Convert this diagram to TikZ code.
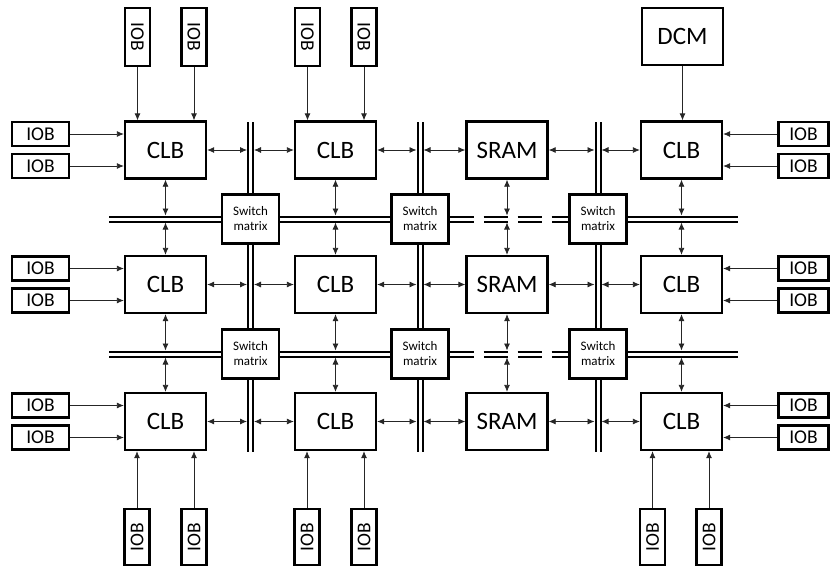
\documentclass[tikz,border=0pt]{standalone}
\usepackage{fontspec}
\setmainfont{Carlito}
\usetikzlibrary{arrows.meta,positioning,calc,backgrounds}

\begin{document}
\begin{tikzpicture}[x=1pt, y=-1pt, >={Latex[length=7pt,width=6pt]}, line width=0.8pt]
\tikzstyle{blk}=[draw, line width=2.3pt, fill=white, inner sep=0pt, minimum width=81pt, minimum height=57pt, font=\fontsize{25}{25}\selectfont]
\tikzstyle{iob}=[draw, line width=2.3pt, fill=white, inner sep=0pt, minimum width=57pt, minimum height=24pt, font=\fontsize{19.5}{19.5}\selectfont]
\tikzstyle{swm}=[draw, line width=2.3pt, fill=white, inner sep=0pt, minimum width=57pt, minimum height=49pt, align=center, font=\fontsize{13}{15}\selectfont]
\tikzstyle{bus}=[draw, line width=2pt, double, double distance=3pt]
\tikzstyle{link}=[<->, black!85]
\tikzstyle{feed}=[->, black!85]

\useasboundingbox (0,0) rectangle (830,566);

% Row 1
\node[blk] (c11) at (165.5,150) {CLB};
\node[blk] (c12) at (335.5,150) {CLB};
\node[blk] (c13) at (507,150) {SRAM};
\node[blk] (c14) at (681.5,150) {CLB};
% Row 2
\node[blk] (c21) at (165.5,284.5) {CLB};
\node[blk] (c22) at (335.5,284.5) {CLB};
\node[blk] (c23) at (507,284.5) {SRAM};
\node[blk] (c24) at (681.5,284.5) {CLB};
% Row 3
\node[blk] (c31) at (165.5,421.5) {CLB};
\node[blk] (c32) at (335.5,421.5) {CLB};
\node[blk] (c33) at (507,421.5) {SRAM};
\node[blk] (c34) at (681.5,421.5) {CLB};

\node[blk] (dcm) at (682.5,36.5) {DCM};

% Switch matrices
\node[swm] (m11) at (250.5,219) {Switch\\matrix};
\node[swm] (m12) at (420,219) {Switch\\matrix};
\node[swm] (m13) at (598,219) {Switch\\matrix};
\node[swm] (m21) at (250.5,354) {Switch\\matrix};
\node[swm] (m22) at (420,354) {Switch\\matrix};
\node[swm] (m23) at (598,354) {Switch\\matrix};

% IOBs left and right
\node[iob] (l1a) at (40.5,134) {IOB};
\node[iob] (l1b) at (40.5,166) {IOB};
\node[iob] (l2a) at (40.5,268.5) {IOB};
\node[iob] (l2b) at (40.5,300.5) {IOB};
\node[iob] (l3a) at (40.5,405.5) {IOB};
\node[iob] (l3b) at (40.5,437.5) {IOB};
\node[iob, minimum width=50pt] (r1a) at (803.5,134) {IOB};
\node[iob, minimum width=50pt] (r1b) at (803.5,166) {IOB};
\node[iob, minimum width=50pt] (r2a) at (803.5,268.5) {IOB};
\node[iob, minimum width=50pt] (r2b) at (803.5,300.5) {IOB};
\node[iob, minimum width=50pt] (r3a) at (803.5,405.5) {IOB};
\node[iob, minimum width=50pt] (r3b) at (803.5,437.5) {IOB};

% IOBs top and bottom
\node[iob, rotate=-90, minimum width=58pt, minimum height=25pt] (t1a) at (137.5,37) {IOB};
\node[iob, rotate=-90, minimum width=58pt, minimum height=25pt] (t1b) at (194,37) {IOB};
\node[iob, rotate=-90, minimum width=58pt, minimum height=25pt] (t2a) at (307.5,37) {IOB};
\node[iob, rotate=-90, minimum width=58pt, minimum height=25pt] (t2b) at (364,37) {IOB};
\node[iob, rotate=90, minimum width=56pt, minimum height=25pt] (b1a) at (137,537) {IOB};
\node[iob, rotate=90, minimum width=56pt, minimum height=25pt] (b1b) at (194,537) {IOB};
\node[iob, rotate=90, minimum width=56pt, minimum height=25pt] (b2a) at (307,537) {IOB};
\node[iob, rotate=90, minimum width=56pt, minimum height=25pt] (b2b) at (364,537) {IOB};
\node[iob, rotate=90, minimum width=56pt, minimum height=25pt] (b4a) at (652.5,537) {IOB};
\node[iob, rotate=90, minimum width=56pt, minimum height=25pt] (b4b) at (709,537) {IOB};

% routing channels
\coordinate (v1t) at (250.5,122);
\coordinate (v1b) at (250.5,452);
\coordinate (v2t) at (420,122);
\coordinate (v2b) at (420,452);
\coordinate (v3t) at (598,122);
\coordinate (v3b) at (598,452);
\coordinate (h1l) at (109,219);
\coordinate (h1r) at (738,219);
\coordinate (h2l) at (109,354);
\coordinate (h2r) at (738,354);

\begin{scope}[on background layer]
\path[bus] (v1t) -- (v1b);
\path[bus] (v2t) -- (v2b);
\path[bus] (v3t) -- (v3b);
\path[bus] (h1l) -- (m12.center);
\path[bus, dash pattern=on 24pt off 10pt] (m12.east) -- (m13.west);
\path[bus] (m13.center) -- (h1r);
\path[bus] (h2l) -- (m22.center);
\path[bus, dash pattern=on 24pt off 10pt] (m22.east) -- (m23.west);
\path[bus] (m23.center) -- (h2r);
\end{scope}

% block to channel links
\foreach \r in {1,2,3} {
  \draw[link, shorten >=3.5pt] (c\r1.east) -- (c\r1.east -| v1t);
  \draw[link, shorten <=3.5pt] (c\r1.east -| v1t) -- (c\r2.west);
  \draw[link, shorten >=3.5pt] (c\r2.east) -- (c\r2.east -| v2t);
  \draw[link, shorten <=3.5pt] (c\r2.east -| v2t) -- (c\r3.west);
  \draw[link, shorten >=3.5pt] (c\r3.east) -- (c\r3.east -| v3t);
  \draw[link, shorten <=3.5pt] (c\r3.east -| v3t) -- (c\r4.west);
}
\foreach \c in {1,2,3,4} {
  \draw[link, shorten >=3.5pt] (c1\c.south) -- (c1\c.south |- h1l);
  \draw[link, shorten <=3.5pt] (c1\c.south |- h1l) -- (c2\c.north);
  \draw[link, shorten >=3.5pt] (c2\c.south) -- (c2\c.south |- h2l);
  \draw[link, shorten <=3.5pt] (c2\c.south |- h2l) -- (c3\c.north);
}

% IOB inputs
\draw[feed] (t1a) -- (t1a |- c11.north);
\draw[feed] (t1b) -- (t1b |- c11.north);
\draw[feed] (t2a) -- (t2a |- c12.north);
\draw[feed] (t2b) -- (t2b |- c12.north);
\draw[feed] (b1a) -- (b1a |- c31.south);
\draw[feed] (b1b) -- (b1b |- c31.south);
\draw[feed] (b2a) -- (b2a |- c32.south);
\draw[feed] (b2b) -- (b2b |- c32.south);
\draw[feed] (b4a) -- (b4a |- c34.south);
\draw[feed] (b4b) -- (b4b |- c34.south);
\foreach \r in {1,2,3} {
  \draw[feed] (l\r a) -- (l\r a -| c\r1.west);
  \draw[feed] (l\r b) -- (l\r b -| c\r1.west);
  \draw[feed] (r\r a) -- (r\r a -| c\r4.east);
  \draw[feed] (r\r b) -- (r\r b -| c\r4.east);
}
\draw[feed] (dcm) -- (dcm |- c14.north);
\end{tikzpicture}
\end{document}
